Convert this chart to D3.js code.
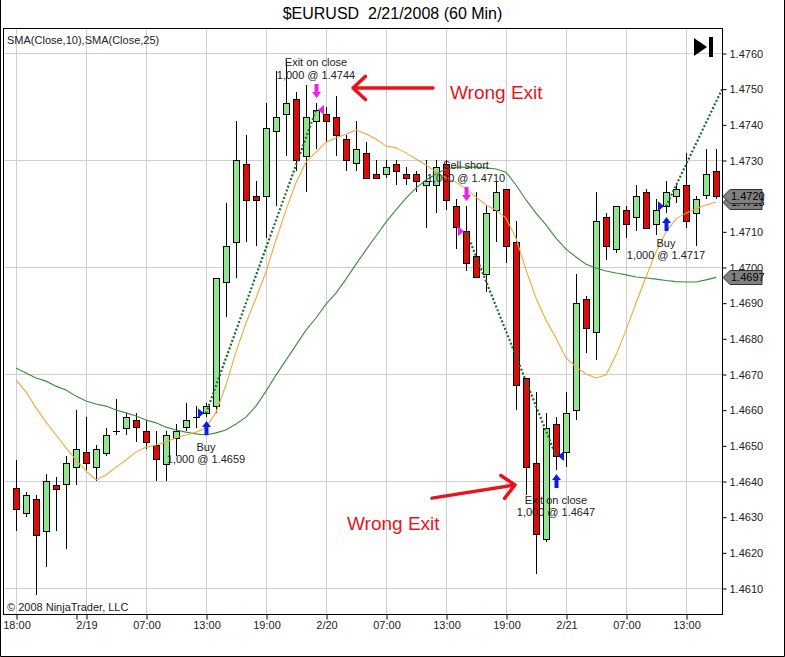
<!DOCTYPE html>
<html>
<head>
<meta charset="utf-8">
<script src="https://cdn.jsdelivr.net/npm/d3@7"></script>
<style>
  body { margin: 0; background: #fff; }
  svg { display: block; }
  text { font-family: "Liberation Sans", Arial, sans-serif; }
</style>
</head>
<body>
<script>
// $EURUSD 60 min candles, 2/18 18:00 .. 2/21 16:00
const opens  = [1.4638,1.4631,1.4635,1.4626,1.4639,1.4639,1.4644,1.4648,1.4644,1.4648,
                1.4654,1.4655,1.4657,1.4654,1.4650,1.4645,1.4652,1.4655,1.4658,1.4659,
                1.4661,1.4696,1.4707,1.4729,1.4720,1.4720,1.4738,1.4743,1.4747,1.4731,
                1.4741,1.4743,1.4742,1.4736,1.4729,1.4732,1.4726,1.4726,1.4729,1.4726,
                1.4726,1.4723,1.4723,1.4729,1.4717,1.4710,1.4703,1.4698,1.4716,1.4722,
                1.4707,1.4669,1.4645,1.4624,1.4656,1.4648,1.4660,1.4691,1.4682,1.4714,
                1.4705,1.4716,1.4714,1.4721,1.4712,1.4717,1.4720,1.4723,1.4715,1.4720,
                1.4727];
const highs  = [1.4646,1.4637,1.4636,1.4642,1.4641,1.4647,1.4660,1.4658,1.4650,1.4655,
                1.4663,1.4659,1.4659,1.4657,1.4654,1.4654,1.4656,1.4662,1.4661,1.4662,
                1.4697,1.4718,1.4741,1.4737,1.4724,1.4746,1.4755,1.4758,1.4749,1.4751,
                1.4746,1.4745,1.4748,1.4737,1.4741,1.4735,1.4730,1.4730,1.4730,1.4728,
                1.4727,1.4730,1.4730,1.4730,1.4719,1.4717,1.4721,1.4717,1.4724,1.4722,
                1.4713,1.4669,1.4665,1.4659,1.4658,1.4665,1.4698,1.4692,1.4721,1.4715,
                1.4717,1.4717,1.4723,1.4722,1.4719,1.4724,1.4723,1.4732,1.4720,1.4733,
                1.4733];
const lows   = [1.4626,1.4630,1.4608,1.4616,1.4626,1.4621,1.4639,1.4643,1.4640,1.4647,
                1.4653,1.4653,1.4651,1.4649,1.4640,1.4640,1.4647,1.4654,1.4655,1.4658,
                1.4659,1.4686,1.4697,1.4707,1.4706,1.4708,1.4717,1.4731,1.4727,1.4721,
                1.4733,1.4735,1.4731,1.4727,1.4727,1.4725,1.4725,1.4725,1.4723,1.4723,
                1.4721,1.4711,1.4715,1.4716,1.4705,1.4699,1.4697,1.4693,1.4707,1.4701,
                1.4660,1.4636,1.4614,1.4623,1.4643,1.4644,1.4657,1.4676,1.4674,1.4702,
                1.4704,1.4708,1.4710,1.4711,1.4709,1.4715,1.4718,1.4711,1.4706,1.4719,
                1.4719];
const closes = [1.4632,1.4636,1.4625,1.4640,1.4638,1.4645,1.4649,1.4645,1.4649,1.4653,
                1.4654,1.4658,1.4655,1.4651,1.4646,1.4653,1.4654,1.4657,1.4658,1.4661,
                1.4697,1.4706,1.4730,1.4719,1.4719,1.4739,1.4742,1.4746,1.4730,1.4742,
                1.4744,1.4741,1.4737,1.4730,1.4733,1.4725,1.4725,1.4728,1.4727,1.4725,
                1.4724,1.4724,1.4728,1.4719,1.4711,1.4701,1.4697,1.4715,1.4721,1.4706,
                1.4667,1.4644,1.4625,1.4655,1.4647,1.4659,1.4690,1.4683,1.4713,1.4706,
                1.4717,1.4712,1.4720,1.4711,1.4716,1.4721,1.4722,1.4713,1.4719,1.4726,
                1.4720];

// indicator values
const sma10 = [1.46683,1.46650,1.46605,1.46565,1.46529,1.46493,1.46459,1.46428,1.46403,1.46417,
               1.46439,1.46459,1.46481,1.46495,1.46501,1.46509,1.46521,1.46529,1.46537,1.46549,
               1.46593,1.46669,1.46762,1.46843,1.46913,1.46986,1.47076,1.47160,1.47236,1.47294,
               1.47322,1.47350,1.47362,1.47373,1.47384,1.47373,1.47359,1.47339,1.47334,1.47320,
               1.47303,1.47286,1.47266,1.47250,1.47238,1.47219,1.47196,1.47174,1.47160,1.47137,
               1.47081,1.46992,1.46913,1.46851,1.46801,1.46745,1.46720,1.46700,1.46689,1.46697,
               1.46753,1.46823,1.46899,1.46972,1.47042,1.47098,1.47135,1.47151,1.47163,1.47174,
               1.47182];
const sma25 = [1.46717,1.46703,1.46689,1.46680,1.46666,1.46655,1.46638,1.46624,1.46616,1.46610,
               1.46599,1.46591,1.46582,1.46571,1.46563,1.46551,1.46543,1.46537,1.46532,1.46529,
               1.46535,1.46543,1.46560,1.46579,1.46610,1.46652,1.46697,1.46739,1.46781,1.46823,
               1.46857,1.46896,1.46927,1.46966,1.47008,1.47048,1.47087,1.47126,1.47160,1.47193,
               1.47221,1.47244,1.47261,1.47275,1.47280,1.47280,1.47280,1.47278,1.47275,1.47266,
               1.47230,1.47188,1.47151,1.47118,1.47081,1.47050,1.47028,1.47008,1.46997,1.46989,
               1.46983,1.46978,1.46972,1.46969,1.46966,1.46962,1.46959,1.46958,1.46958,1.46964,
               1.46971];

const timeTicks  = [0, 6, 7, 13, 19, 25, 31, 37, 43, 49, 55, 61, 67];
const timeLabels = ["18:00", "", "2/19", "07:00", "13:00", "19:00", "2/20", "07:00", "13:00", "19:00", "2/21", "07:00", "13:00"];
const priceTicks = d3.range(14610, 14761, 10).map(v => v / 10000);
const priceGrid  = [1.4610, 1.4640, 1.4670, 1.4700, 1.4730, 1.4760];

const trades = [
  {entry: 19, entryPrice: 1.4659, exit: 30, exitPrice: 1.4744},
  {entry: 45, entryPrice: 1.4710, exit: 54, exitPrice: 1.4647},
  {entry: 65, entryPrice: 1.4717, exit: 72, exitPrice: 1.4758}
];
const executions = [
  {bar: 19, price: 1.4659, action: "buy",  kind: "entry", name: "Buy",           qty: "1,000 @ 1.4659"},
  {bar: 30, price: 1.4744, action: "sell", kind: "exit",  name: "Exit on close", qty: "1,000 @ 1.4744"},
  {bar: 45, price: 1.4710, action: "sell", kind: "entry", name: "Sell short",    qty: "1,000 @ 1.4710"},
  {bar: 54, price: 1.4647, action: "buy",  kind: "exit",  name: "Exit on close", qty: "1,000 @ 1.4647"},
  {bar: 65, price: 1.4717, action: "buy",  kind: "entry", name: "Buy",           qty: "1,000 @ 1.4717"}
];
// hand drawn notes (bar index / price)
const notes = [
  {from: [41.7, 1.47502], to: [33.7, 1.47502], text: "Wrong Exit", at: [43.4, 1.47490]},
  {from: [41.6, 1.46352], to: [49.9, 1.46389], text: "Wrong Exit", at: [33.1, 1.46282]}
];

const W = 785, H = 657;
const plot = {left: 3, right: 722, top: 28, bottom: 614};

const svg = d3.select("body").append("svg")
  .attr("width", W).attr("height", H);

const x = d3.scaleLinear().domain([0, 70]).range([16, 716]);
const y = d3.scaleLinear().domain([1.4610, 1.4760]).range([588, 53]);
const crisp = v => Math.round(v) + 0.5;

// outer border
svg.append("path")
  .attr("d", `M0.5,0 V${H - 0.5} H${W - 0.5} V0`)
  .attr("fill", "none").attr("stroke", "#000");

svg.append("text")
  .attr("x", W / 2).attr("y", 19)
  .attr("text-anchor", "middle")
  .style("white-space", "pre")
  .attr("font-size", 16)
  .text("$EURUSD  2/21/2008 (60 Min)");

svg.append("clipPath").attr("id", "clip")
  .append("rect")
  .attr("x", plot.left).attr("y", plot.top)
  .attr("width", plot.right - plot.left).attr("height", plot.bottom - plot.top);

const grid = svg.append("g").attr("stroke", "#cfcfcf");
grid.selectAll("line.h").data(priceGrid).join("line")
  .attr("x1", plot.left).attr("x2", plot.right)
  .attr("y1", d => crisp(y(d))).attr("y2", d => crisp(y(d)));
grid.selectAll("line.v").data(timeTicks.filter((d, k) => timeLabels[k] !== "")).join("line")
  .attr("x1", d => x(d) + 0.5).attr("x2", d => x(d) + 0.5)
  .attr("y1", plot.top).attr("y2", plot.bottom);

const chart = svg.append("g").attr("clip-path", "url(#clip)");
const bars = d3.range(closes.length);

// candles
chart.append("g").selectAll("line").data(bars).join("line")
  .attr("x1", i => x(i) + 0.5).attr("x2", i => x(i) + 0.5)
  .attr("y1", i => Math.round(y(highs[i]))).attr("y2", i => Math.round(y(lows[i])))
  .attr("stroke", "#000");

chart.append("g").selectAll("rect").data(bars.filter(i => opens[i] !== closes[i])).join("rect")
  .attr("x", i => x(i) - 2.5)
  .attr("width", 6)
  .attr("y", i => crisp(y(Math.max(opens[i], closes[i]))))
  .attr("height", i => Math.max(1, Math.round(Math.abs(y(opens[i]) - y(closes[i])))))
  .attr("fill", i => closes[i] > opens[i] ? "#92e492" : "#dc0c0c")
  .attr("stroke", "#000");

chart.append("g").selectAll("line").data(bars.filter(i => opens[i] === closes[i])).join("line")
  .attr("x1", i => x(i) - 3).attr("x2", i => x(i) + 4)
  .attr("y1", i => crisp(y(closes[i]))).attr("y2", i => crisp(y(closes[i])))
  .attr("stroke", "#000");

// moving averages
const line = d3.line().x((d, i) => x(i)).y(d => y(d));
chart.append("path").attr("d", line(sma25))
  .attr("fill", "none").attr("stroke", "#3c8c3c").attr("stroke-width", 1.1);
chart.append("path").attr("d", line(sma10))
  .attr("fill", "none").attr("stroke", "#f0a83c").attr("stroke-width", 1.1);

// trade connection lines
chart.append("g").selectAll("line").data(trades).join("line")
  .attr("x1", d => x(d.entry)).attr("y1", d => y(d.entryPrice))
  .attr("x2", d => x(d.exit)).attr("y2", d => y(d.exitPrice))
  .attr("stroke", "#1e6b2e").attr("stroke-width", 2.2)
  .attr("stroke-dasharray", "2,2");

// executions
const blue = "#0a1ee6", pink = "#f020f0";
const ex = chart.append("g");
executions.forEach(e => {
  const cx = x(e.bar), py = y(e.price);
  const col = e.action === "buy" ? blue : pink;
  // small execution triangle
  const tri = e.kind === "entry"
    ? [[cx - 8, py - 5], [cx - 2, py], [cx - 8, py + 5]]
    : [[cx + 8, py - 5], [cx + 2, py], [cx + 8, py + 5]];
  ex.append("path").attr("d", "M" + tri.join("L") + "Z").attr("fill", col);

  if (e.action === "buy") {
    const top = Math.round(y(lows[e.bar])) + 4;
    ex.append("path")
      .attr("d", `M${cx + 0.5},${top} L${cx + 5},${top + 6} L${cx + 2.5},${top + 6} L${cx + 2.5},${top + 14} L${cx - 1.5},${top + 14} L${cx - 1.5},${top + 6} L${cx - 4},${top + 6} Z`)
      .attr("fill", col);
    ex.append("text").attr("x", cx).attr("y", top + 30).attr("text-anchor", "middle")
      .attr("font-size", 11).attr("fill", "#222").text(e.name);
    ex.append("text").attr("x", cx).attr("y", top + 42).attr("text-anchor", "middle")
      .attr("font-size", 11).attr("fill", "#222").text(e.qty);
  } else {
    const bot = Math.round(y(highs[e.bar])) - 5;
    ex.append("path")
      .attr("d", `M${cx + 0.5},${bot} L${cx + 5},${bot - 6} L${cx + 2.5},${bot - 6} L${cx + 2.5},${bot - 14} L${cx - 1.5},${bot - 14} L${cx - 1.5},${bot - 6} L${cx - 4},${bot - 6} Z`)
      .attr("fill", col);
    ex.append("text").attr("x", cx).attr("y", bot - 19).attr("text-anchor", "middle")
      .attr("font-size", 11).attr("fill", "#222").text(e.qty);
    ex.append("text").attr("x", cx).attr("y", bot - 32).attr("text-anchor", "middle")
      .attr("font-size", 11).attr("fill", "#222").text(e.name);
  }
});

// red notes
const red = "#e8141c";
notes.forEach(n => {
  const x1 = x(n.from[0]), y1 = y(n.from[1]), x2 = x(n.to[0]), y2 = y(n.to[1]);
  const ang = Math.atan2(y1 - y2, x1 - x2);
  const arm = 17, spread = Math.PI / 4.2;
  const a1 = [x2 + arm * Math.cos(ang + spread), y2 + arm * Math.sin(ang + spread)];
  const a2 = [x2 + arm * Math.cos(ang - spread), y2 + arm * Math.sin(ang - spread)];
  chart.append("path")
    .attr("d", `M${x1},${y1} L${x2},${y2} M${a1} L${x2},${y2} L${a2}`)
    .attr("fill", "none").attr("stroke", red).attr("stroke-width", 3.5)
    .attr("stroke-linecap", "round").attr("stroke-linejoin", "round");
  chart.append("text").attr("x", x(n.at[0])).attr("y", y(n.at[1]))
    .attr("dy", "0.35em").attr("font-size", 19).attr("fill", red).text(n.text);
});

// texts inside the panel
svg.append("text").attr("x", 7).attr("y", 44).attr("font-size", 11).attr("fill", "#222")
  .text("SMA(Close,10),SMA(Close,25)");
svg.append("text").attr("x", 7).attr("y", 611).attr("font-size", 11).attr("fill", "#222")
  .text("\u00a9 2008 NinjaTrader, LLC");

// "go to end" button
svg.append("path").attr("d", "M694,38 L707,47 L694,56 Z").attr("fill", "#000");
svg.append("rect").attr("x", 709).attr("y", 37).attr("width", 4).attr("height", 20).attr("fill", "#000");

// frame
svg.append("rect")
  .attr("x", plot.left + 0.5).attr("y", plot.top + 0.5)
  .attr("width", plot.right - plot.left).attr("height", plot.bottom - plot.top)
  .attr("fill", "none").attr("stroke", "#000");

// axes
const yAxis = d3.axisRight(y).tickValues(priceTicks).tickFormat(d3.format(".4f")).tickSize(4).tickPadding(3);
const ya = svg.append("g").attr("transform", `translate(${plot.right + 0.5},0.5)`).call(yAxis);
ya.select(".domain").remove();
ya.selectAll("text").attr("font-size", 11).attr("font-family", null).attr("fill", "#222");

const xAxis = d3.axisBottom(x).tickValues(timeTicks)
  .tickFormat((d, k) => timeLabels[k]).tickSize(5).tickPadding(2);
const xa = svg.append("g").attr("transform", `translate(0.5,${plot.bottom + 0.5})`).call(xAxis);
xa.select(".domain").remove();
xa.selectAll("text").attr("font-size", 11).attr("font-family", null).attr("fill", "#222");

// last value tags
const tags = [
  {value: sma10[sma10.length - 1]},
  {value: closes[closes.length - 1]},
  {value: sma25[sma25.length - 1]}
];
const tg = svg.append("g");
tags.forEach(t => {
  const ty = Math.round(y(t.value)) + 0.5;
  tg.append("path")
    .attr("d", `M${plot.right + 1},${ty} L${plot.right + 8},${ty - 7} L${plot.right + 40},${ty - 7} L${plot.right + 40},${ty + 7} L${plot.right + 8},${ty + 7} Z`)
    .attr("fill", "#808080").attr("stroke", "#333");
  tg.append("text").attr("x", plot.right + 9).attr("y", ty).attr("dy", "0.36em")
    .attr("font-size", 11).attr("fill", "#000").text(d3.format(".4f")(t.value));
});
</script>
</body>
</html>
